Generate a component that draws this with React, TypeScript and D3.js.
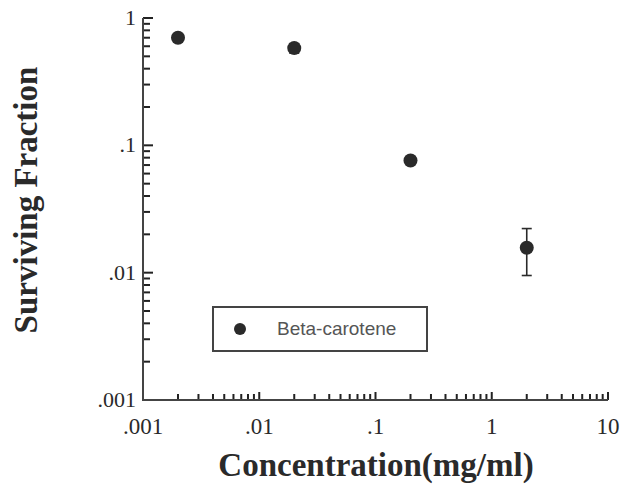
import React from "react";
import * as d3 from "d3";

const concentrations = [0.002, 0.02, 0.2, 2];
const survival = [0.7, 0.58, 0.076, 0.0157];
const errLow = [0.66, 0.53, 0.072, 0.0095];
const errHigh = [0.74, 0.63, 0.08, 0.0222];
const xTickValues = [0.001, 0.01, 0.1, 1, 10];
const xTickLabels = [".001", ".01", ".1", "1", "10"];
const yTickValues = [0.001, 0.01, 0.1, 1];
const yTickLabels = [".001", ".01", ".1", "1"];
const seriesName = "Beta-carotene";

export default function App() {
  const W = 623, H = 492;
  const left = 143, right = 608, top = 18, bottom = 400;
  const x = d3.scaleLog().domain([0.001, 10]).range([left, right]);
  const y = d3.scaleLog().domain([0.001, 1]).range([bottom, top]);
  const ink = "#2a2a2a";
  const axisCol = "#444";

  const xt = x.ticks();
  const yt = y.ticks();
  const isMajor = (v: number) => Math.abs(Math.log10(v) - Math.round(Math.log10(v))) < 1e-6;
  const serif = "Liberation Serif, Times New Roman, serif";

  return (
    <svg width={W} height={H} style={{ position: "absolute", left: 0, top: 0, background: "#fff" }}>
      <rect width={W} height={H} fill="#fff" />
      {xt.map((v, i) => (
        <rect key={"xt" + i} x={x(v) - 1} y={bottom - (isMajor(v) ? 8 : 6)} width={2} height={isMajor(v) ? 8 : 6} fill="#222" />
      ))}
      {yt.map((v, i) => (
        <rect key={"yt" + i} x={left} y={y(v) - 1} width={isMajor(v) ? 10 : 7} height={2} fill="#222" />
      ))}
      <line x1={left} y1={top} x2={left} y2={bottom + 1} stroke={axisCol} strokeWidth={2} />
      <line x1={left - 1} y1={bottom} x2={right} y2={bottom} stroke={axisCol} strokeWidth={2} />
      {xTickValues.map((v, i) => (
        <text key={"xl" + i} x={x(v)} y={bottom + 34} textAnchor="middle" fontFamily={serif} fontSize={23} fill={ink}>
          {xTickLabels[i]}
        </text>
      ))}
      {yTickValues.map((v, i) => (
        <text key={"yl" + i} x={left - 7} y={y(v) + 7} textAnchor="end" fontFamily={serif} fontSize={22} fill={ink}>
          {yTickLabels[i]}
        </text>
      ))}
      <text x={376} y={476} textAnchor="middle" fontFamily={serif} fontWeight="bold" fontSize={33} fill={ink}>
        Concentration(mg/ml)
      </text>
      <text transform={`translate(37,200) rotate(-90)`} textAnchor="middle" fontFamily={serif} fontWeight="bold" fontSize={33} fill={ink}>
        Surviving Fraction
      </text>
      {concentrations.map((c, i) => (
        <g key={"e" + i} stroke={ink} strokeWidth={1.6}>
          <line x1={x(c)} x2={x(c)} y1={y(errLow[i])} y2={y(errHigh[i])} />
          <line x1={x(c) - 5} x2={x(c) + 5} y1={y(errLow[i])} y2={y(errLow[i])} />
          <line x1={x(c) - 5} x2={x(c) + 5} y1={y(errHigh[i])} y2={y(errHigh[i])} />
        </g>
      ))}
      {concentrations.map((c, i) => (
        <circle key={"p" + i} cx={x(c)} cy={y(survival[i])} r={7} fill={ink} />
      ))}
      <rect x={213} y={307} width={214} height={44} fill="#fff" stroke={axisCol} strokeWidth={2} />
      <circle cx={240} cy={329} r={6} fill={ink} />
      <text x={277} y={335} fontFamily="Liberation Sans, Arial, sans-serif" fontSize={19} fill="#555">
        {seriesName}
      </text>
    </svg>
  );
}
